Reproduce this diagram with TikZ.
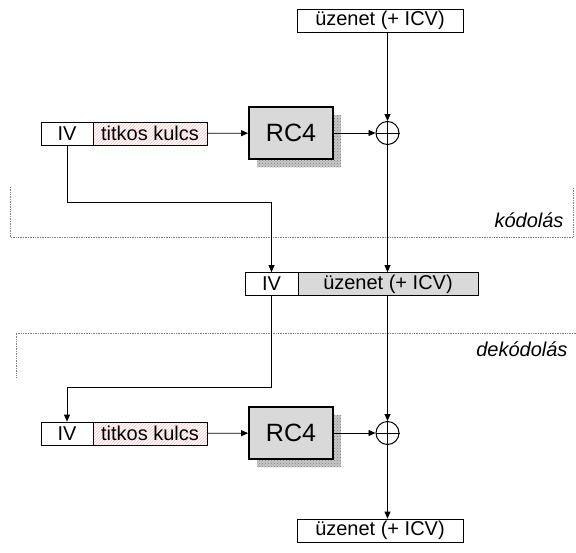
\documentclass[tikz,border=0pt]{standalone}
\usepackage{fontspec}
\setmainfont{Liberation Sans}
\usetikzlibrary{arrows.meta,patterns}

\begin{document}
\begin{tikzpicture}[x=1pt, y=-1pt, >={Stealth[length=7pt,width=6pt,inset=0pt]},
  every node/.style={font=\fontsize{20}{23}\selectfont},
  field/.style={draw, line width=0.8pt, minimum height=23pt, inner sep=0pt},
  keyfield/.style={field, pattern=north east lines, pattern color=red!25},
  cipher/.style={draw, line width=1.8pt, fill=black!15, minimum width=84pt,
    minimum height=52pt, inner sep=0pt, font=\fontsize{25}{28}\selectfont},
  xor/.style={draw, circle, line width=1pt, minimum size=23pt, inner sep=0pt},
  shade/.style={fill=black!22, postaction={pattern=crosshatch dots, pattern color=black!50}},
  link/.style={line width=0.8pt},
  frame/.style={densely dotted, gray, line width=0.7pt},
  phase/.style={anchor=east, font=\fontsize{20}{23}\selectfont\itshape}]
  \useasboundingbox (0,0) rectangle (576,552);

  % upper half
  \node[field, minimum width=166pt] (msgT) at (380,20.5) {üzenet (+ ICV)};
  \node[field, minimum width=52pt] (ivA) at (67,133.5) {IV};
  \node[keyfield, minimum width=114pt] (keyA) at (150,133.5) {titkos kulcs};
  \fill[shade] (257,115) rectangle (341,167);
  \node[cipher] (rcA) at (291,133) {RC4};
  \node[xor] (xorA) at (387.5,133) {};
  \draw[link] (xorA.north) -- (xorA.south) (xorA.west) -- (xorA.east);

  \draw[frame] (10,187) -- (10,237) -- (573,237) -- (573,187);
  \node[phase] (encL) at (567,220) {kódolás};

  % middle
  \node[field, minimum width=53pt] (ivM) at (271.5,284) {IV};
  \node[field, fill=black!15, minimum width=180pt] (msgM) at (388,284) {üzenet (+ ICV)};

  \draw[frame] (576,333) -- (16,333) -- (16,377);
  \node[phase] (decL) at (571,349) {dekódolás};

  % lower half
  \node[field, minimum width=52pt] (ivB) at (67,433.5) {IV};
  \node[keyfield, minimum width=114pt] (keyB) at (150,433.5) {titkos kulcs};
  \fill[shade] (257,415) rectangle (341,467);
  \node[cipher] (rcB) at (291,433) {RC4};
  \node[xor] (xorB) at (387.5,433) {};
  \draw[link] (xorB.north) -- (xorB.south) (xorB.west) -- (xorB.east);
  \node[field, minimum width=166pt] (msgB) at (380,530.5) {üzenet (+ ICV)};

  \coordinate (bendA) at (67,202);
  \coordinate (bendB) at (67,387);

  % connectors
  \draw[link, ->] (xorA |- msgT.south) -- (xorA.north);
  \draw[link, ->] (keyA) -- (rcA);
  \draw[link, ->] (rcA) -- (xorA);
  \draw[link, ->] (xorA.south) -- (xorA |- msgM.north);
  \draw[link, ->] (ivA.south) -- (bendA) -| (ivM.north);
  \draw[link, ->] (ivM.south) |- (bendB) -- (ivB.north);
  \draw[link, ->] (xorB |- msgM.south) -- (xorB.north);
  \draw[link, ->] (keyB) -- (rcB);
  \draw[link, ->] (rcB) -- (xorB);
  \draw[link, ->] (xorB.south) -- (xorB |- msgB.north);
\end{tikzpicture}
\end{document}
